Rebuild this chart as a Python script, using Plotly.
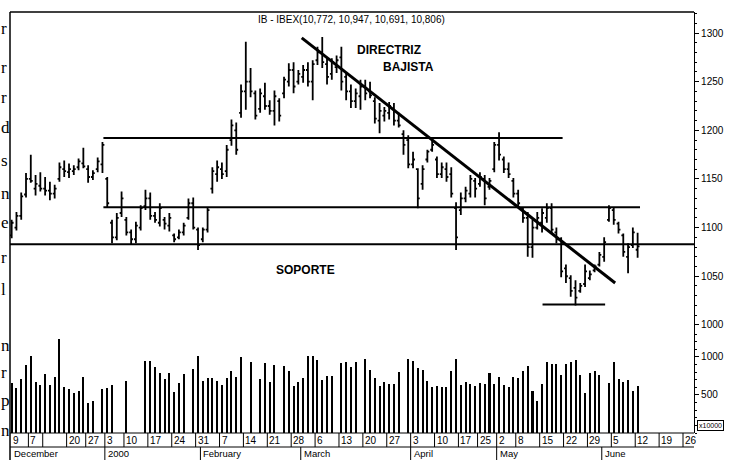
import plotly.graph_objects as go

# ---------------- data ----------------
trading_day = list(range(1, 133))  # trading-day index, Nov 30 1999 .. Jun 12 2000

opens = [1092,1100,1112,1134,1150,1140,1143,1140,1138,1135,
         1150,1160,1157,1158,1162,1166,1160,1152,1160,1165,
         1150,1105,1090,1115,1108,1095,1088,1100,1122,1130,
         1112,1105,1108,1102,1092,1090,1095,1110,1125,1098,
         1088,1098,1140,1155,1160,1158,1190,1200,1218,1240,
         1250,1238,1222,1235,1225,1220,1230,1238,1250,1262,
         1250,1255,1262,1250,1272,1280,1268,1258,1265,1275,
         1255,1240,1230,1235,1245,1240,1230,1210,1215,1218,
         1222,1210,1196,1190,1165,1160,1145,1170,1180,1170,
         1155,1160,1155,1120,1118,1130,1135,1148,1145,1150,
         1142,1160,1185,1170,1160,1148,1135,1118,1110,1080,
         1100,1105,1110,1120,1095,1088,1058,1048,1038,1035,
         1042,1048,1056,1062,1070,1108,1118,1104,1092,1070,
         1082,1077.2]
highs = [1108,1116,1136,1156,1175,1154,1157,1152,1147,1144,
         1167,1169,1166,1164,1171,1182,1164,1159,1172,1188,
         1152,1108,1115,1137,1111,1098,1106,1123,1139,1136,
         1116,1125,1111,1115,1094,1098,1105,1130,1131,1100,
         1100,1121,1162,1169,1167,1185,1211,1208,1247,1291,
         1264,1241,1243,1249,1231,1241,1233,1255,1269,1270,
         1262,1267,1270,1272,1286,1296,1275,1274,1277,1286,
         1259,1247,1243,1252,1252,1250,1234,1228,1224,1229,
         1228,1218,1200,1195,1178,1161,1164,1180,1190,1173,
         1167,1167,1162,1126,1136,1142,1154,1151,1157,1154,
         1151,1188,1198,1173,1167,1151,1139,1121,1116,1108,
         1116,1120,1125,1125,1100,1090,1062,1051,1046,1043,
         1062,1056,1062,1075,1090,1123,1121,1106,1094,1084,
         1100,1094.7]
lows = [1089,1097,1108,1131,1146,1133,1137,1133,1128,1130,
        1147,1152,1151,1154,1159,1161,1146,1149,1157,1156,
        1121,1084,1087,1111,1092,1082,1084,1097,1118,1108,
        1105,1101,1098,1096,1085,1088,1092,1108,1098,1077,
        1085,1095,1135,1147,1150,1152,1184,1175,1213,1221,
        1234,1211,1218,1221,1216,1205,1209,1233,1245,1238,
        1247,1249,1245,1231,1267,1264,1247,1252,1259,1241,
        1231,1223,1223,1221,1231,1233,1207,1197,1209,1211,
        1205,1203,1175,1161,1161,1120,1139,1167,1178,1151,
        1151,1147,1131,1077,1113,1126,1131,1131,1142,1123,
        1139,1157,1169,1156,1151,1131,1121,1105,1070,1069,
        1098,1095,1105,1094,1084,1049,1043,1029,1020,1033,
        1039,1046,1054,1060,1065,1106,1103,1094,1070,1053,
        1079,1069.1]
closes = [1105,1112,1132,1150,1148,1145,1140,1138,1135,1140,
          1162,1158,1160,1160,1168,1163,1152,1156,1168,1185,
          1125,1090,1110,1130,1095,1088,1102,1120,1130,1112,
          1108,1120,1104,1110,1088,1095,1102,1125,1100,1082,
          1098,1118,1158,1162,1155,1180,1205,1180,1240,1250,
          1240,1215,1238,1225,1220,1235,1215,1252,1262,1245,
          1258,1262,1250,1268,1280,1270,1255,1270,1272,1250,
          1240,1230,1238,1245,1238,1236,1212,1220,1220,1225,
          1210,1205,1185,1165,1170,1130,1160,1178,1185,1155,
          1162,1152,1135,1090,1130,1138,1150,1140,1152,1130,
          1148,1185,1175,1160,1155,1135,1125,1110,1080,1100,
          1110,1115,1120,1098,1088,1055,1050,1035,1028,1040,
          1055,1052,1060,1072,1085,1120,1108,1098,1075,1080,
          1095,1080.6]
volume = [658,592,711,895,1013,671,632,776,632,737,
          1237,605,579,526,553,737,395,421,None,579,
          592,632,None,None,684,None,None,None,947,947,
          868,789,711,789,539,658,776,None,842,1013,
          684,724,724,684,632,724,816,740,1004,None,
          938,None,711,917,667,895,None,882,816,618,
          675,728,1013,1017,961,697,754,754,None,917,
          934,864,938,None,974,829,728,623,675,640,
          640,798,None,970,951,851,829,688,601,623,
          610,610,820,970,632,675,641,618,654,645,
          785,645,733,632,610,733,719,820,882,553,
          425,645,930,904,904,763,908,930,961,763,
          530,793,820,763,None,662,930,706,667,697,
          553,618]

# week boxes on the date strip (first trading day of each week)
week_start_day = [0,5,8,13,17,21,25,30,35,40,45,50,55,60,65,70,75,80,85,90,
                  95,99,103,107,112,117,122,127,132,137,142]
week_labels = ["9","7","","20","27","3","10","17","24","31","7","14","21","28","6",
               "13","20","27","3","10","17","25","2","8","15","22","29","5","12","19","26"]
month_start_day = [0,21,41,62,85,103,125]
month_labels = ["December","2000","February","March","April","May","June"]

price_ticks = [1000,1050,1100,1150,1200,1250,1300]
volume_ticks = [500,1000]

# reference lines drawn on the chart
support_level = 1083
resistance_mid = 1121
resistance_high = 1192
low_level = 1021
trend_start = (61.7, 1295)
trend_end = (127.3, 1043)

title_text = "IB - IBEX(10,772, 10,947, 10,691, 10,806)"

# ---------------- figure ----------------
FONT = "Liberation Sans, Arial, sans-serif"
X_RANGE = [0.65, 143.8]
STRIP = -14 / 421.0
MONTH_BOTTOM = -27 / 421.0

fig = go.Figure()
fig.add_trace(go.Ohlc(
    x=trading_day, open=opens, high=highs, low=lows, close=closes,
    increasing=dict(line=dict(color="black", width=1.8)),
    decreasing=dict(line=dict(color="black", width=1.8)),
    tickwidth=0.4, xaxis="x", yaxis="y", showlegend=False, hoverinfo="skip"))
fig.add_trace(go.Bar(
    x=trading_day, y=volume, width=0.42,
    marker=dict(color="black", line=dict(width=0)),
    xaxis="x2", yaxis="y2", showlegend=False, hoverinfo="skip"))

shapes = []
# frame
shapes.append(dict(type="line", xref="paper", yref="paper", x0=0, x1=1, y0=1, y1=1, line=dict(color="black", width=1.5)))
shapes.append(dict(type="line", xref="paper", yref="paper", x0=0, x1=0, y0=1, y1=MONTH_BOTTOM, line=dict(color="black", width=1.5)))
shapes.append(dict(type="line", xref="paper", yref="paper", x0=0, x1=1, y0=0, y1=0, line=dict(color="black", width=1.2)))
shapes.append(dict(type="line", xref="paper", yref="paper", x0=0, x1=1, y0=STRIP, y1=STRIP, line=dict(color="black", width=1)))
for d in week_start_day:
    shapes.append(dict(type="line", xref="x", yref="paper", x0=d - 0.5, x1=d - 0.5, y0=0, y1=STRIP,
                       line=dict(color="black", width=1)))
for d in month_start_day[1:]:
    shapes.append(dict(type="line", xref="x", yref="paper", x0=d - 0.5, x1=d - 0.5, y0=STRIP, y1=MONTH_BOTTOM,
                       line=dict(color="black", width=1)))
# analysis lines
shapes.append(dict(type="line", xref="paper", yref="y", x0=0, x1=1, y0=support_level, y1=support_level,
                   line=dict(color="black", width=2)))
shapes.append(dict(type="line", xref="x", yref="y", x0=20.2, x1=132.5, y0=resistance_mid, y1=resistance_mid,
                   line=dict(color="black", width=2)))
shapes.append(dict(type="line", xref="x", yref="y", x0=20.2, x1=116.3, y0=resistance_high, y1=resistance_high,
                   line=dict(color="black", width=2)))
shapes.append(dict(type="line", xref="x", yref="y", x0=112.1, x1=125.2, y0=low_level, y1=low_level,
                   line=dict(color="black", width=2)))
shapes.append(dict(type="line", xref="x", yref="y", x0=trend_start[0], x1=trend_end[0],
                   y0=trend_start[1], y1=trend_end[1], line=dict(color="black", width=3)))

ann = []
for d, lab in zip(week_start_day, week_labels):
    if not lab:
        continue
    if d == 0:
        ann.append(dict(xref="paper", x=0, xanchor="left", xshift=1, yref="paper", y=STRIP / 2,
                        yanchor="middle", text=lab, showarrow=False, font=dict(family=FONT, size=10, color="black")))
    else:
        ann.append(dict(xref="x", x=d - 0.5, xanchor="left", xshift=0, yref="paper", y=STRIP / 2,
                        yanchor="middle", text=lab, showarrow=False, font=dict(family=FONT, size=10, color="black")))
for d, lab in zip(month_start_day, month_labels):
    if d == 0:
        ann.append(dict(xref="paper", x=0, xanchor="left", xshift=2, yref="paper", y=(STRIP + MONTH_BOTTOM) / 2,
                        yanchor="middle", text=lab, showarrow=False, font=dict(family=FONT, size=9.5, color="black")))
    else:
        ann.append(dict(xref="x", x=d - 0.5, xanchor="left", xshift=1, yref="paper", y=(STRIP + MONTH_BOTTOM) / 2,
                        yanchor="middle", text=lab, showarrow=False, font=dict(family=FONT, size=9.5, color="black")))

def px_x(p):
    return (p - 10) / 687.0

def px_y(p):
    return 1 - (p - 12) / 421.0

ann.append(dict(xref="paper", yref="paper", x=px_x(353), y=px_y(19), text=title_text, showarrow=False,
                xanchor="center", yanchor="middle", font=dict(family=FONT, size=10, color="black")))
ann.append(dict(xref="paper", yref="paper", x=px_x(357), y=px_y(50), text="<b>DIRECTRIZ</b>", showarrow=False,
                xanchor="left", yanchor="middle", font=dict(family=FONT, size=12, color="black")))
ann.append(dict(xref="paper", yref="paper", x=px_x(383), y=px_y(67), text="<b>BAJISTA</b>", showarrow=False,
                xanchor="left", yanchor="middle", font=dict(family=FONT, size=12, color="black")))
ann.append(dict(xref="paper", yref="paper", x=px_x(275), y=px_y(270), text="<b>SOPORTE</b>", showarrow=False,
                xanchor="left", yanchor="middle", font=dict(family=FONT, size=12, color="black")))
ann.append(dict(xref="paper", yref="paper", x=px_x(714), y=px_y(425), text="x10000", showarrow=False,
                xanchor="center", yanchor="middle", bordercolor="black", borderwidth=1, borderpad=1,
                font=dict(family=FONT, size=7, color="black")))

# letters from the book page visible along the left edge
edge_letters = ["r","r","r","d","s","n","e","r","l","n","r","p","n"]
edge_y = [28,67,97,127,160,193,222,257,289,345,372,400,430]
for ch, yy in zip(edge_letters, edge_y):
    ann.append(dict(xref="paper", yref="paper", x=px_x(0), y=px_y(yy), text=ch, showarrow=False,
                    xanchor="left", yanchor="middle", borderpad=0,
                    font=dict(family="Liberation Serif, Times New Roman, serif", size=17, color="black")))

VOL_DOMAIN_TOP = 98 / 421.0

fig.update_layout(
    width=734, height=460,
    margin=dict(l=10, r=37, t=12, b=27),
    paper_bgcolor="white", plot_bgcolor="white",
    showlegend=False, bargap=0,
    xaxis=dict(domain=[0, 1], range=X_RANGE, anchor="y", showticklabels=False, ticks="",
               showgrid=False, zeroline=False, showline=False, rangeslider=dict(visible=False)),
    xaxis2=dict(domain=[0, 1], range=X_RANGE, anchor="y2", showticklabels=False, ticks="",
                showgrid=False, zeroline=False, showline=False, matches="x"),
    yaxis=dict(domain=[VOL_DOMAIN_TOP, 1], range=[989.6, 1321.6], side="right", anchor="x",
               tickvals=price_ticks, ticks="outside", ticklen=4, tickcolor="black", tickwidth=1,
               showline=True, linecolor="black", linewidth=1.2, showgrid=False, zeroline=False,
               tickfont=dict(family=FONT, size=10, color="black"),
               minor=dict(dtick=10, tick0=1000, ticks="outside", ticklen=2, tickcolor="black")),
    yaxis2=dict(domain=[0, VOL_DOMAIN_TOP], range=[0, 1289], side="right", anchor="x2",
                tickvals=volume_ticks, ticks="outside", ticklen=4, tickcolor="black", tickwidth=1,
                showline=True, linecolor="black", linewidth=1.2, showgrid=False, zeroline=False,
                tickfont=dict(family=FONT, size=10, color="black"),
                minor=dict(dtick=100, tick0=0, ticks="outside", ticklen=2, tickcolor="black")),
    shapes=shapes, annotations=ann,
)

fig.write_html("out.html", config={"displayModeBar": False},
               post_script="document.body.style.margin='0';document.body.style.padding='0';")
